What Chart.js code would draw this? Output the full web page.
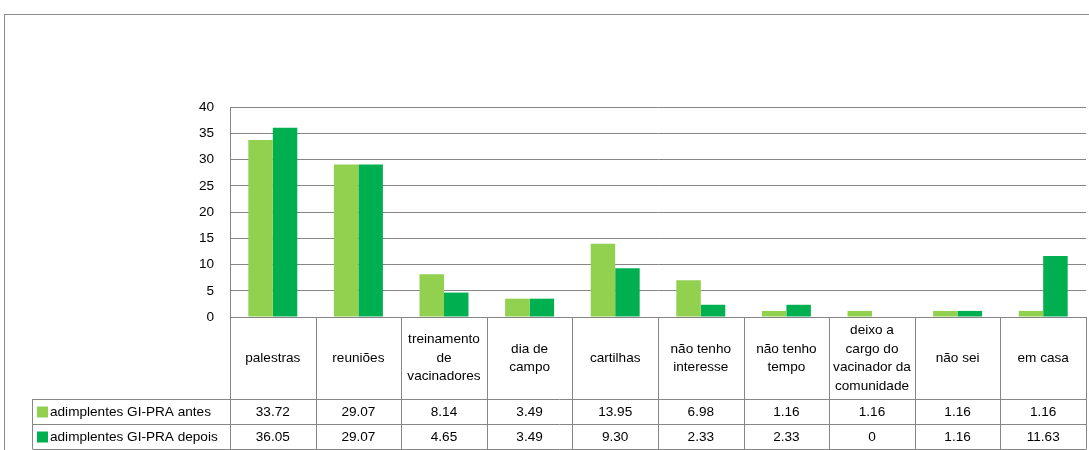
<!DOCTYPE html>
<html>
<head>
<meta charset="utf-8">
<script src="https://cdn.jsdelivr.net/npm/chart.js@4"></script>
<style>
  html, body { margin: 0; padding: 0; background: #fff; }
  #wrap { width: 1089px; height: 450px; position: relative; }
</style>
</head>
<body>
<div id="wrap"><canvas id="chart"></canvas></div>
<script>
'use strict';

// Category labels (pre-split into lines as they appear in the table header)
const categories = [
  ['palestras'],
  ['reuniões'],
  ['treinamento', 'de', 'vacinadores'],
  ['dia de', 'campo'],
  ['cartilhas'],
  ['não tenho', 'interesse'],
  ['não tenho', 'tempo'],
  ['deixo a', 'cargo do', 'vacinador da', 'comunidade'],
  ['não sei'],
  ['em casa'],
];

const seriesNames = ['adimplentes GI-PRA antes', 'adimplentes GI-PRA depois'];
const antes  = [33.72, 29.07, 8.14, 3.49, 13.95, 6.98, 1.16, 1.16, 1.16, 1.16];
const depois = [36.05, 29.07, 4.65, 3.49, 9.30, 2.33, 2.33, 0, 1.16, 11.63];

const Y_MIN = 0;
const Y_MAX = 40;
const Y_STEP = 5;

const COLORS = {
  antes:  '#92d050',
  depois: '#00b050',
  grid:   '#868686',
  frame:  '#8c8c8c',
  text:   '#000000',
};

const FONT = '"Liberation Sans", Arial, sans-serif';
const FONT_SIZE = 13.6;

// Layout of the data table under the plot
const TABLE = {
  headerBottom: 399,
  rowHeight: 25,
  left: 32,
  lineHeight: 18.5,
};

function fmt(v) {
  return v === 0 ? '0' : v.toFixed(2);
}

/** Outer frame of the chart object */
const framePlugin = {
  id: 'frame',
  beforeDraw(chart) {
    const ctx = chart.ctx;
    ctx.save();
    ctx.fillStyle = '#fff';
    ctx.fillRect(0, 0, chart.width, chart.height);
    ctx.strokeStyle = COLORS.frame;
    ctx.lineWidth = 1;
    ctx.strokeRect(4.5, 14.5, chart.width + 20, chart.height + 20);
    ctx.restore();
  },
};

/** Data table with category header, legend keys and values */
const dataTablePlugin = {
  id: 'dataTable',
  afterDraw(chart) {
    const ctx = chart.ctx;
    const xs = chart.scales.x;
    const area = chart.chartArea;
    const n = categories.length;
    const step = (xs.right - xs.left) / n;
    const top = Math.round(area.bottom);
    const hb = TABLE.headerBottom;
    const rows = [antes, depois];
    const rowColors = [COLORS.antes, COLORS.depois];
    const bottom = hb + TABLE.rowHeight * rows.length;
    const px = (v) => Math.round(v) + 0.5;

    ctx.save();
    ctx.strokeStyle = COLORS.grid;
    ctx.lineWidth = 1;

    // vertical column lines
    ctx.beginPath();
    for (let i = 0; i <= n; i++) {
      const x = px(xs.left + i * step);
      ctx.moveTo(x, top);
      ctx.lineTo(x, bottom);
    }
    // legend column left edge
    ctx.moveTo(px(TABLE.left), hb);
    ctx.lineTo(px(TABLE.left), bottom);
    // horizontal row lines
    for (let r = 0; r <= rows.length; r++) {
      const y = px(hb + r * TABLE.rowHeight);
      ctx.moveTo(px(TABLE.left), y);
      ctx.lineTo(px(xs.right), y);
    }
    ctx.stroke();

    ctx.fillStyle = COLORS.text;
    ctx.font = `${FONT_SIZE}px ${FONT}`;
    ctx.textAlign = 'center';
    ctx.textBaseline = 'middle';

    // header labels
    const headMid = (top + hb) / 2;
    categories.forEach((lines, i) => {
      const cx = xs.left + (i + 0.5) * step;
      const y0 = headMid - ((lines.length - 1) * TABLE.lineHeight) / 2;
      lines.forEach((line, k) => ctx.fillText(line, cx, y0 + k * TABLE.lineHeight));
    });

    // value rows with legend keys
    rows.forEach((vals, r) => {
      const cy = hb + (r + 0.5) * TABLE.rowHeight + 1;
      ctx.fillStyle = rowColors[r];
      ctx.fillRect(TABLE.left + 5, cy - 6, 11, 11);
      ctx.fillStyle = COLORS.text;
      ctx.textAlign = 'left';
      ctx.fillText(seriesNames[r], TABLE.left + 18, cy);
      ctx.textAlign = 'center';
      vals.forEach((v, i) => {
        ctx.fillText(fmt(v), xs.left + (i + 0.5) * step, cy);
      });
    });

    ctx.restore();
  },
};

const canvas = document.getElementById('chart');

new Chart(canvas, {
  type: 'bar',
  data: {
    labels: categories.map((c) => c.join(' ')),
    datasets: [
      {
        label: seriesNames[0],
        data: antes,
        backgroundColor: COLORS.antes,
        borderWidth: 0,
        categoryPercentage: 0.572,
        barPercentage: 1,
      },
      {
        label: seriesNames[1],
        data: depois,
        backgroundColor: COLORS.depois,
        borderWidth: 0,
        categoryPercentage: 0.572,
        barPercentage: 1,
      },
    ],
  },
  options: {
    responsive: true,
    maintainAspectRatio: false,
    animation: false,
    devicePixelRatio: 1,
    layout: {
      padding: { left: 0, right: 3, top: 107, bottom: 133 },
    },
    plugins: {
      legend: { display: false },
      tooltip: { enabled: false },
    },
    scales: {
      x: {
        display: false,
      },
      y: {
        min: Y_MIN,
        max: Y_MAX,
        ticks: {
          stepSize: Y_STEP,
          color: COLORS.text,
          padding: 16,
          font: { family: FONT, size: FONT_SIZE },
        },
        grid: {
          color: COLORS.grid,
          lineWidth: 1,
          drawTicks: false,
        },
        border: { display: true, color: COLORS.grid, width: 1 },
        afterFit(scale) {
          scale.width = 230;
        },
      },
    },
  },
  plugins: [framePlugin, dataTablePlugin],
});
</script>
</body>
</html>
